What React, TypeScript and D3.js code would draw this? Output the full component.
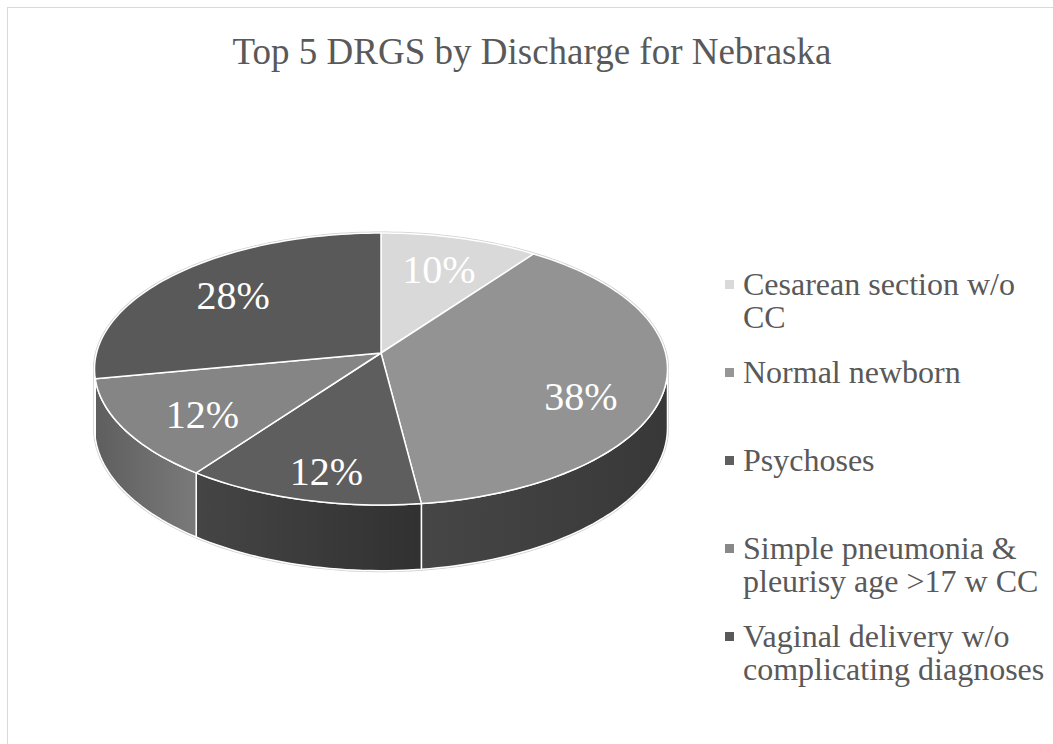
import React from "react";
import * as d3 from "d3";

const categories = [
  "Cesarean section w/o CC",
  "Normal newborn",
  "Psychoses",
  "Simple pneumonia & pleurisy age >17 w CC",
  "Vaginal delivery w/o complicating diagnoses",
];
const values = [10, 38, 12, 12, 28];
const legendLines = [
  ["Cesarean section w/o", "CC"],
  ["Normal newborn"],
  ["Psychoses"],
  ["Simple pneumonia &", "pleurisy age >17 w CC"],
  ["Vaginal delivery w/o", "complicating diagnoses"],
];
const title = "Top 5 DRGS by Discharge for Nebraska";

const topColors = ["#d9d9d9", "#939393", "#5e5e5e", "#858585", "#595959"];
const swatchColors = ["#d9d9d9", "#969696", "#5f5f5f", "#888888", "#595959"];
const sideColors: [string, string][] = [
  ["#9a9a9a", "#8a8a8a"],
  ["#464646", "#383838"],
  ["#454545", "#313131"],
  ["#5e5e5e", "#7a7a7a"],
  ["#4a4a4a", "#4a4a4a"],
];

const W = 1053;
const H = 744;
const FONT = "'Liberation Serif', 'Times New Roman', serif";
const TEXT = "#595959";

// perspective pie geometry
const cx = 381;
const cy = 353;
const A = 284.5;
const B = 134.1;
const P = 0.1176;
const DEPTH = 58;

function project(theta: number, r: number, z: number): [number, number] {
  const x3 = r * Math.sin(theta);
  const y3 = -r * Math.cos(theta);
  const f = 1 / (1 - P * y3);
  return [cx + A * x3 * f, cy + B * y3 * f + DEPTH * z * f];
}

function arcPts(a0: number, a1: number, z: number): [number, number][] {
  const n = Math.max(2, Math.ceil(((a1 - a0) / (2 * Math.PI)) * 240));
  return d3.range(n + 1).map((i) => project(a0 + ((a1 - a0) * i) / n, 1, z));
}

const thetaR = Math.acos(-P);
const thetaL = 2 * Math.PI - thetaR;

export default function App() {
  const pie = d3
    .pie<number>()
    .sort(null)
    .value((d) => d);
  const arcs = pie(values);
  const total = d3.sum(values);
  const line = d3.line();

  const slices = arcs.map((a, i) => {
    const top: [number, number][] = [project(0, 0, 0), ...arcPts(a.startAngle, a.endAngle, 0)];
    const s0 = Math.max(a.startAngle, thetaR);
    const s1 = Math.min(a.endAngle, thetaL);
    let side: [number, number][] | null = null;
    if (s1 > s0) {
      side = [...arcPts(s0, s1, 0), ...arcPts(s0, s1, 1).reverse()];
    }
    const sideX = side ? (d3.extent(side, (p) => p[0]) as [number, number]) : null;
    const mid = (a.startAngle + a.endAngle) / 2;
    const base = project(mid, 0.71, 0);
    const dy = sideX ? 0.08 * (sideX[1] - sideX[0]) : 0;
    return {
      i,
      top,
      side,
      sideX,
      label: [base[0], base[1] + dy] as [number, number],
      pct: Math.round((values[i] / total) * 100) + "%",
    };
  });

  const outline: [number, number][] = arcPts(0, 2 * Math.PI, 0);
  const outlineSide: [number, number][] = [
    ...arcPts(thetaR, thetaL, 0),
    ...arcPts(thetaR, thetaL, 1).reverse(),
  ];

  const legendX = 725;
  const legendTop = 295;
  const legendStep = 88;

  return (
    <svg
      width={W}
      height={H}
      style={{ position: "absolute", left: 0, top: 0, background: "#fff" }}
    >
      <defs>
        {slices.map((s) =>
          s.sideX ? (
            <linearGradient
              key={s.i}
              id={"sg" + s.i}
              gradientUnits="userSpaceOnUse"
              x1={s.sideX[0]}
              x2={s.sideX[1]}
              y1={0}
              y2={0}
            >
              <stop offset="0" stopColor={sideColors[s.i][0]} />
              <stop offset="1" stopColor={sideColors[s.i][1]} />
            </linearGradient>
          ) : null
        )}
      </defs>
      <rect x={7.5} y={7.5} width={W + 20} height={H + 20} fill="#fff" stroke="#d9d9d9" strokeWidth={1} />
      <text
        x={532}
        y={64}
        textAnchor="middle"
        style={{ fontFamily: FONT }}
        fontSize={37}
        fill={TEXT}
      >
        {title}
      </text>

      <g>
        <path d={line(outlineSide) + "Z"} fill="none" stroke="#cfcfcf" strokeWidth={3} />
        <path d={line(outline) + "Z"} fill="none" stroke="#cfcfcf" strokeWidth={3} />
        {slices.map((s) =>
          s.side ? (
            <path
              key={"side" + s.i}
              d={line(s.side) + "Z"}
              fill={`url(#sg${s.i})`}
              stroke="#fff"
              strokeWidth={1.5}
              strokeLinejoin="round"
            />
          ) : null
        )}
        {slices.map((s) => (
          <path
            key={"top" + s.i}
            d={line(s.top) + "Z"}
            fill={topColors[s.i]}
            stroke="#fff"
            strokeWidth={1.5}
            strokeLinejoin="round"
          />
        ))}
        {slices.map((s) => (
          <text
            key={"lab" + s.i}
            x={s.label[0]}
            y={s.label[1]}
            textAnchor="middle"
            dominantBaseline="central"
            style={{ fontFamily: FONT }}
            fontSize={40}
            fill="#fff"
          >
            {s.pct}
          </text>
        ))}
      </g>

      <g>
        {categories.map((c, i) => {
          const by = legendTop + i * legendStep;
          return (
            <g key={c}>
              <rect x={legendX} y={by - 15} width={9} height={9} fill={swatchColors[i]} />
              <text style={{ fontFamily: FONT }} fontSize={32} fill={TEXT}>
                {legendLines[i].map((ln, k) => (
                  <tspan key={k} x={legendX + 18} y={by + k * 33}>
                    {ln}
                  </tspan>
                ))}
              </text>
            </g>
          );
        })}
      </g>
    </svg>
  );
}
